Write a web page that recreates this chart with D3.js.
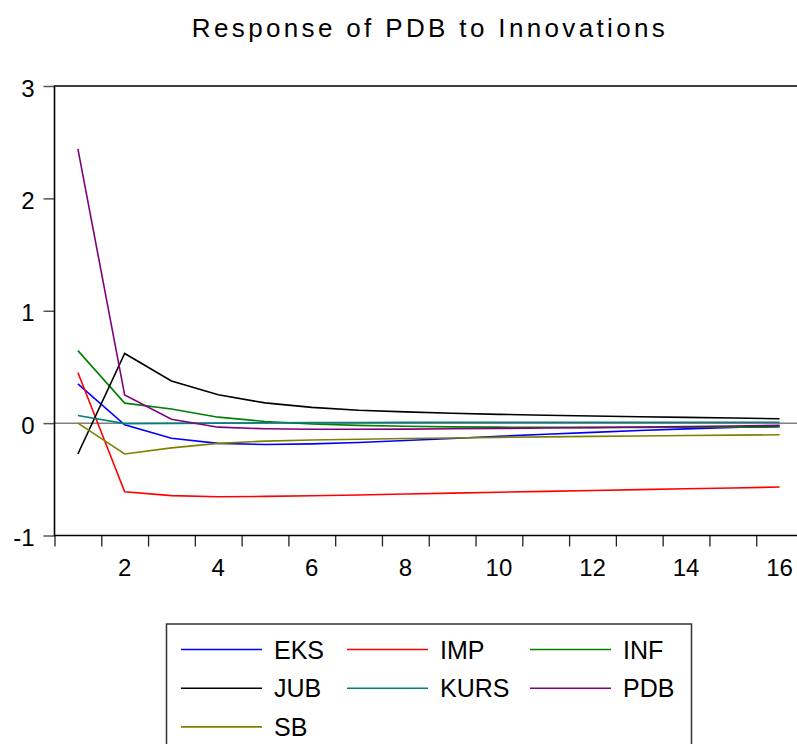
<!DOCTYPE html>
<html>
<head>
<meta charset="utf-8">
<script src="https://cdn.jsdelivr.net/npm/d3@7"></script>
<style>
  body { margin: 0; background: #fff; }
  text { font-family: "Liberation Sans", Arial, sans-serif; fill: #000; }
</style>
</head>
<body>
<div id="chart"></div>
<script>
// response of PDB, periods 1..16
var periods = d3.range(1, 17);
var xTickLabels = [2, 4, 6, 8, 10, 12, 14, 16];
var yTickLabels = [-1, 0, 1, 2, 3];

var eks  = [0.35, -0.015, -0.135, -0.18, -0.19, -0.185, -0.172, -0.155, -0.137, -0.117, -0.099, -0.082, -0.066, -0.051, -0.038, -0.027];
var imp  = [0.45, -0.61, -0.645, -0.655, -0.652, -0.646, -0.639, -0.631, -0.623, -0.615, -0.607, -0.599, -0.592, -0.584, -0.577, -0.569];
var inf  = [0.645, 0.178, 0.125, 0.053, 0.015, -0.008, -0.02, -0.028, -0.033, -0.036, -0.037, -0.038, -0.038, -0.037, -0.036, -0.035];
var jub  = [-0.275, 0.62, 0.375, 0.252, 0.18, 0.14, 0.115, 0.1, 0.088, 0.078, 0.07, 0.063, 0.057, 0.051, 0.045, 0.039];
var kurs = [0.068, -0.004, -0.002, 0.0, 0.003, 0.005, 0.006, 0.007, 0.008, 0.008, 0.008, 0.008, 0.008, 0.008, 0.008, 0.008];
var pdb  = [2.44, 0.25, 0.035, -0.036, -0.05, -0.055, -0.055, -0.053, -0.05, -0.047, -0.044, -0.04, -0.035, -0.03, -0.025, -0.02];
var sb   = [0.0, -0.275, -0.22, -0.18, -0.16, -0.15, -0.143, -0.137, -0.132, -0.127, -0.122, -0.118, -0.114, -0.11, -0.107, -0.104];

var seriesNames = ["EKS", "IMP", "INF", "JUB", "KURS", "PDB", "SB"];
var seriesColors = ["#0000ff", "#ff0000", "#008000", "#000000", "#008080", "#800080", "#808000"];
var seriesValues = [eks, imp, inf, jub, kurs, pdb, sb];

var width = 797,
    height = 744;

var svg = d3.select("#chart")
            .append("svg")
            .attr("width", width)
            .attr("height", height);

var x = d3.scaleLinear().domain([0.5, 16.5]).range([54.5, 803]);
var y = d3.scaleLinear().domain([-1, 3]).range([535.5, 86]);

// title
svg.append("text")
   .attr("x", 430)
   .attr("y", 37)
   .attr("text-anchor", "middle")
   .style("font-size", "26px")
   .style("letter-spacing", "3.35px")
   .text("Response of PDB to Innovations");

// zero line
svg.append("line")
   .attr("x1", x(0.5)).attr("x2", width)
   .attr("y1", y(0)).attr("y2", y(0))
   .attr("stroke", "#808080")
   .attr("stroke-width", 1.5);

// y axis
var yAxis = d3.axisLeft(y).tickValues(yTickLabels).tickSize(11).tickPadding(9)
              .tickFormat(function(d) { return String(d); });
var gy = svg.append("g").attr("transform", "translate(" + x(0.5) + ",0)").call(yAxis);
gy.select(".domain").remove();
gy.selectAll(".tick line").attr("stroke", "#555").attr("stroke-width", 1.5);
gy.selectAll(".tick text").style("font-size", "24px").attr("dy", "0.42em");

// x axis: ticks at period boundaries, labels at even periods
var xAxis = d3.axisBottom(x).tickValues(d3.range(0.5, 17, 1)).tickSize(11).tickFormat("");
var gx = svg.append("g").attr("transform", "translate(0," + y(-1) + ")").call(xAxis);
gx.select(".domain").remove();
gx.selectAll(".tick line").attr("stroke", "#222").attr("stroke-width", 1.3);

svg.selectAll(".xlab")
   .data(xTickLabels)
   .enter().append("text")
   .attr("class", "xlab")
   .attr("x", function(d) { return x(d); })
   .attr("y", 576)
   .attr("text-anchor", "middle")
   .style("font-size", "24px")
   .text(function(d) { return d; });

// frame (left, top, bottom) - right side falls outside the picture
svg.append("path")
   .attr("d", "M" + x(16.5) + "," + y(3) + "H" + x(0.5) + "V" + y(-1) + "H" + x(16.5))
   .attr("fill", "none")
   .attr("stroke", "#000")
   .attr("stroke-width", 1.6);

// series lines
var line = d3.line()
             .x(function(d, i) { return x(periods[i]); })
             .y(function(d) { return y(d); });

svg.selectAll(".series")
   .data(seriesValues)
   .enter().append("path")
   .attr("class", "series")
   .attr("d", line)
   .attr("fill", "none")
   .attr("stroke", function(d, i) { return seriesColors[i]; })
   .attr("stroke-width", 1.6);

// legend
var legendCols = [181, 347, 530];
var legend = svg.append("g");
legend.append("rect")
      .attr("x", 166.5).attr("y", 624)
      .attr("width", 525).attr("height", 140)
      .attr("fill", "none")
      .attr("stroke", "#333")
      .attr("stroke-width", 1.5);

var items = legend.selectAll(".item")
                  .data(seriesNames)
                  .enter().append("g")
                  .attr("class", "item")
                  .attr("transform", function(d, i) {
                      return "translate(" + legendCols[i % 3] + "," + (649.5 + Math.floor(i / 3) * 38.7) + ")";
                  });

items.append("line")
     .attr("x1", 0).attr("x2", 81)
     .attr("stroke", function(d, i) { return seriesColors[i]; })
     .attr("stroke-width", 1.6);

items.append("text")
     .attr("x", 93)
     .attr("y", 9)
     .style("font-size", "25px")
     .text(function(d) { return d; });
</script>
</body>
</html>
